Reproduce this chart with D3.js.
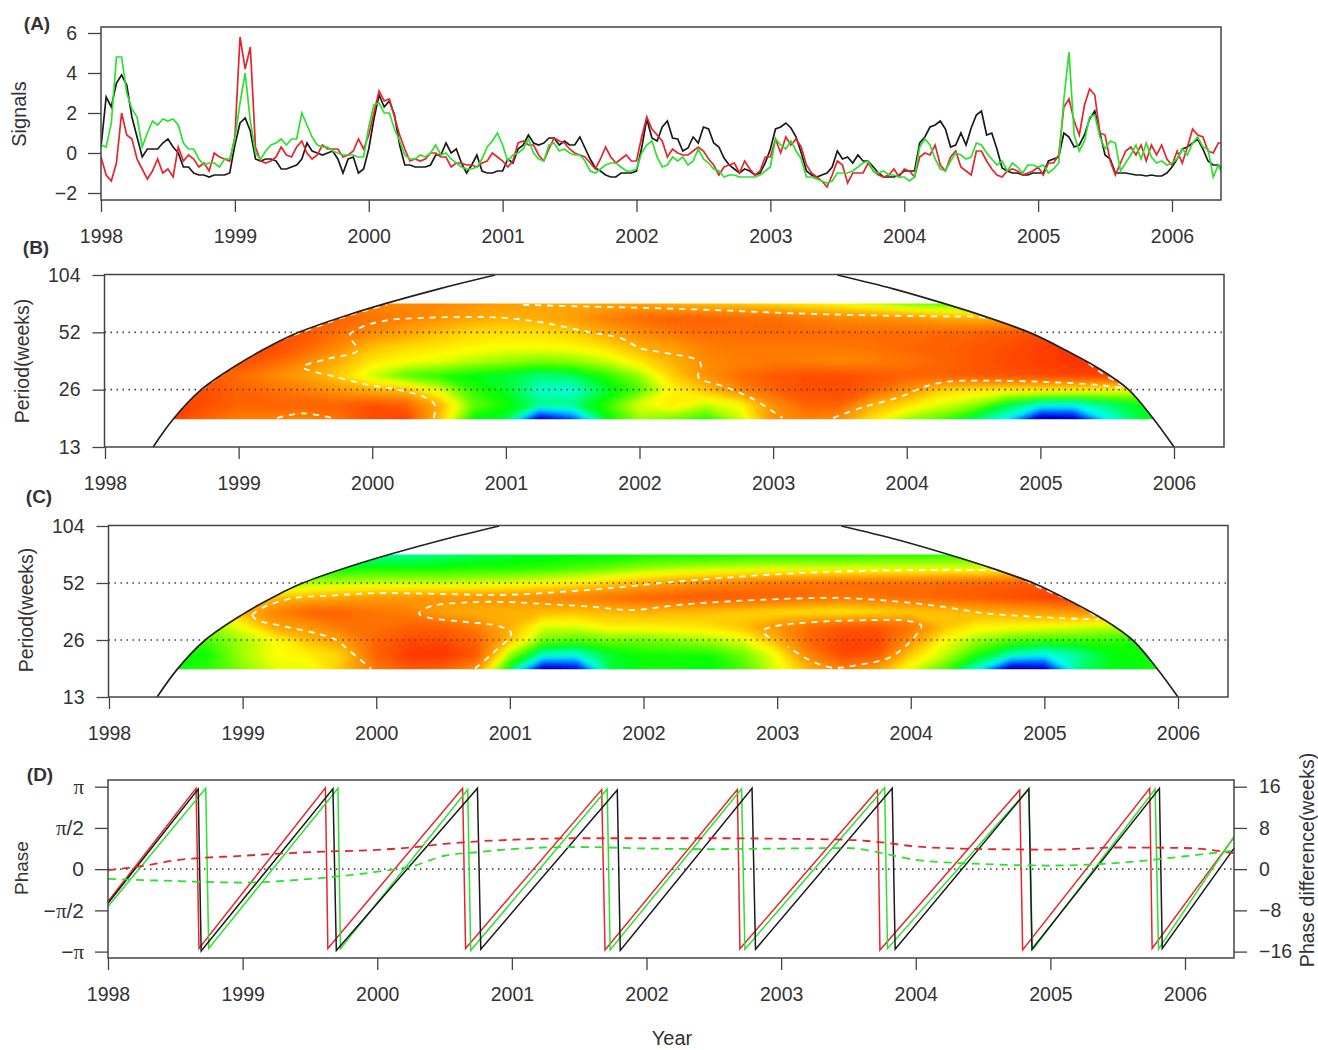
<!DOCTYPE html>
<html>
<head>
<meta charset="utf-8">
<script src="https://cdn.jsdelivr.net/npm/d3@7"></script>
<style>
  body { margin: 0; background: #fff; }
  text { font-family: "Liberation Sans", Arial, sans-serif; fill: #333; }
  .tick text { font-size: 19.5px; fill: #333; }
  .tick line { stroke: #444; stroke-width: 1.3; }
</style>
</head>
<body>
<div id="chart"></div>
<script>
// tick labels
const yearTicks = [1998, 1999, 2000, 2001, 2002, 2003, 2004, 2005, 2006];
const signalTicks = [-2, 0, 2, 4, 6];
const periodTicks = [13, 26, 52, 104];
const phaseTicks = [-Math.PI, -Math.PI / 2, 0, Math.PI / 2, Math.PI];
const phaseLabels = ["\u2212\u03c0", "\u2212\u03c0/2", "0", "\u03c0/2", "\u03c0"];
const diffTicks = [-16, -8, 0, 8, 16];

// panel A, one value every two weeks from 1998 on
const signalBlack = [
  .3,2.8,2.3,3.5,3.9,3.4,1.8,.8,-.2,.2,.2,.2,.5,.7,.3,0,-.7,-.7,-1,-1.1,-1.1,-1.2,-1.1,-1.1,-1.1,-1,
  .4,1.5,1.75,1.1,-.3,-.4,-.3,-.3,-.4,-.8,-.8,-.7,-.6,-.3,.5,.1,0,-.1,0,.1,-.3,-1,-.3,-.2,-1,-.8,
  .2,1.7,2.9,2.3,2.6,1.9,.4,-.6,-.6,-.7,-.7,-.7,-.6,-.1,-.1,.5,0,.2,-.5,-1,-.6,-.1,-.9,-1,-1,-.9,
  -.9,-.3,-.5,.2,.4,.9,.5,.4,.5,.75,.75,.4,.6,.4,.4,.8,.25,-.3,-.75,-.9,-1.1,-1.2,-1.2,-1,-1,-1,
  -.9,.25,1.7,.75,.6,1.3,1.6,.75,.7,.1,.25,.8,.5,1.3,1.2,.5,.3,-.25,-.6,-.8,-1,-.8,-.9,-1.1,-1,-.5,
  .2,1.2,1.3,1.5,1.25,.8,0,-.9,-1.1,-1.2,-1.1,-1,-.7,.1,-.3,-.2,-.5,-.1,-.4,-.4,-.7,-1,-1.2,-1.2,-1.2,-1.1,
  -.9,-.9,-.9,.5,.8,1.3,1.4,1.6,1.2,.3,.4,1,.4,1.25,1.9,2.1,.9,1,.2,-.75,-.9,-1,-1,-1.1,-1.1,-1,
  -1,-1,-.4,-.3,-.2,1,.8,.3,.4,.9,1.7,2.1,1,-.1,-.3,-1,-1,-1,-1.05,-1.1,-1.1,-1.15,-1.1,-1.15,-1.15,-1,
  -.7,-.3,.2,.3,.5,.7,.2,-.4,-.6,-.6,-.9
];
const signalRed = [
  -.2,-1.1,-1.4,-.5,2,.9,.7,-.3,-.8,-1.3,-.9,-.3,-1,-.8,-1.2,.3,-.4,-.1,-.3,-.7,-.5,-.9,0,-.2,-.3,-.4,
  .8,5.8,4.2,5.3,.3,-.4,-.5,-.4,-.2,.3,-.1,-.2,.3,.6,0,-.3,-.1,.4,.2,.2,.2,-.2,-.1,.1,.7,.2,
  .9,2,3.1,2.6,2.7,1.8,.9,.2,-.4,-.3,-.4,-.3,0,0,-.2,-.2,-.7,-.5,-.5,-.6,-.6,-.7,-.5,-.4,0,-.2,
  -.4,-.7,-.4,.5,.6,.4,.4,-.1,-.4,.2,.75,.6,.5,.2,0,-.1,-.2,-.5,-.8,-.3,.3,-.2,-.5,-.3,-.1,-.4,
  -.4,.8,1.8,1.2,.9,.6,-.2,.2,0,-.1,-.1,.1,.3,.1,-.3,-.6,-1.1,-.7,-.6,-.5,-1,-.4,-.8,-1.1,-.9,-.2,
  -.2,.7,0,.8,.4,.7,.3,-.6,-1,-1.2,-1.4,-1.7,-1.1,-.4,-.6,-1.5,-1,-1,-1,-.5,-.9,-1.1,-1.2,-1.1,-.8,-1.2,
  -.8,-.9,-1.2,-.2,0,-.1,.4,-.6,-.9,-.2,.1,-.7,-.9,-1.1,.1,.1,-.4,-.8,-1.1,-1.2,-.9,-.8,-.9,-1.1,-1,-.9,
  -.7,-1.1,-.5,-.5,-.1,2.3,2.7,1.6,.9,2.4,3.2,2.9,1,.9,-.4,-1.1,-.5,.1,.3,-.1,.4,-.4,.4,-.1,.4,-.3,
  -.6,.1,-.5,.3,1.2,.9,.8,.1,0,.5,.5
];
const signalGreen = [
  .4,.3,1.5,4.8,4.8,3,2.2,1.8,.3,1,1.6,1.4,1.7,1.6,1.7,1.4,.5,.2,.2,-.3,-.6,-.5,-.5,-.7,-.3,-.3,
  .7,2.5,4,1.6,0,-.3,.1,.4,.5,.7,.4,.7,.7,2,1.4,.8,.4,.3,.3,.1,0,-.1,-.1,-.1,-.2,-.2,
  1.3,2.4,2.5,2,2,1.2,.6,-.1,-.3,-.3,-.1,-.2,0,.4,-.1,0,-.3,-.5,-.7,-.8,-.8,-.7,-.3,.3,.6,1,
  .4,-.4,-.1,0,.2,.7,0,-.3,-.4,.4,.5,.1,.2,0,-.1,-.1,-.4,-.9,-1,-.8,-.6,-.5,-.5,-.7,-.9,-.9,
  -.8,0,.4,.6,-.2,-.7,-.6,-.2,-.4,-.2,-.6,-.4,.2,-.3,-.5,-.8,-.9,-1.2,-1.1,-1.1,-1.2,-1.2,-1.2,-1.2,-1.1,-.9,
  -.7,.7,.4,.2,.6,.1,-.3,-1.2,-1.2,-1.3,-1.4,-1.5,-1.4,-1,-1,-1,-.9,-.7,-.5,-.4,-.9,-1,-.9,-1.1,-1.1,-1.2,
  -1.2,-1.4,-1.2,.3,.7,.4,-.3,-.8,-.9,-.4,0,-.1,-.3,-.2,.5,.4,0,-.3,-.6,-.4,-.9,-.5,-.7,-1,-.6,-.6,
  -.7,-.6,-1,-.8,-.5,2.7,5.05,.9,.1,.6,1.8,1.9,.8,.2,.6,.5,-.9,-.5,-.1,.4,-.3,.5,-.2,-.5,-.4,-.6,
  -.5,-.3,.2,-.1,.5,.8,.3,.2,-1.2,-.6,-1.2
];

// panels B and C, power on a grid of periods (rows) and years (columns)
const heatFirstYear = 1998.25;
const heatYearStep = 0.25;
const heatPeriods = [73.6, 62, 52, 43.7, 36.8, 30.9, 26, 21.9, 18.2];
const heatB = [
  [.8,.8,.8,.8,.8,.8,.8,.8,.8,.8,.78,.76,.74,.74,.74,.74,.72,.7,.68,.66,.64,.62,.58,.52,.5,.5,.5,.5,.5,.5,.5,.5],
  [.88,.88,.88,.88,.88,.88,.88,.85,.82,.78,.74,.72,.73,.76,.82,.86,.88,.88,.87,.86,.83,.8,.79,.78,.74,.72,.72,.72,.72,.72,.72,.72],
  [.9,.9,.9,.9,.9,.9,.85,.8,.75,.7,.67,.66,.66,.68,.74,.8,.84,.86,.86,.86,.86,.86,.86,.86,.87,.88,.9,.92,.92,.92,.92,.92],
  [.92,.92,.92,.92,.93,.88,.8,.7,.67,.65,.63,.62,.62,.63,.66,.72,.76,.82,.84,.84,.84,.84,.85,.87,.88,.9,.92,.95,.97,.97,.97,.97],
  [.88,.88,.88,.92,.88,.8,.72,.65,.62,.6,.57,.55,.53,.54,.58,.65,.72,.8,.82,.83,.82,.8,.82,.84,.87,.9,.93,.95,.97,.98,.98,.98],
  [.9,.9,.9,.86,.8,.75,.68,.58,.5,.47,.44,.42,.38,.4,.47,.55,.68,.78,.86,.9,.92,.93,.9,.88,.88,.9,.91,.93,.94,.95,.95,.95],
  [.9,.9,.92,.88,.85,.82,.77,.72,.7,.6,.48,.43,.33,.32,.42,.5,.63,.7,.8,.88,.92,.93,.88,.78,.68,.65,.64,.64,.63,.62,.6,.6],
  [.97,.97,.92,.88,.88,.88,.88,.92,.88,.72,.52,.46,.38,.38,.48,.6,.65,.58,.62,.78,.88,.88,.72,.66,.6,.55,.42,.33,.32,.38,.44,.44],
  [.95,.95,.88,.82,.82,.8,.85,.93,.95,.7,.45,.42,.04,.16,.44,.55,.52,.47,.58,.78,.82,.78,.65,.55,.5,.4,.3,.02,.05,.3,.42,.42]
];
const heatC = [
  [.36,.36,.36,.36,.36,.36,.36,.36,.36,.38,.4,.42,.43,.44,.44,.45,.45,.45,.46,.46,.46,.46,.47,.47,.48,.48,.48,.48,.48,.48,.48,.48],
  [.45,.45,.45,.45,.45,.45,.45,.46,.46,.46,.47,.47,.48,.5,.52,.55,.57,.58,.59,.6,.6,.6,.6,.6,.6,.6,.62,.62,.62,.62,.62,.62],
  [.5,.5,.5,.5,.5,.56,.57,.58,.58,.58,.59,.6,.62,.64,.68,.72,.76,.8,.82,.84,.85,.86,.86,.86,.87,.88,.89,.9,.9,.9,.9,.9],
  [.6,.6,.6,.6,.7,.72,.74,.76,.77,.78,.78,.78,.8,.82,.85,.88,.89,.9,.89,.88,.86,.84,.85,.86,.88,.9,.92,.94,.96,.96,.96,.96],
  [.6,.6,.6,.72,.82,.88,.88,.84,.82,.74,.72,.72,.71,.7,.71,.72,.71,.7,.68,.66,.65,.64,.66,.68,.7,.72,.74,.76,.78,.78,.78,.78],
  [.55,.55,.55,.62,.75,.78,.84,.85,.88,.88,.82,.72,.6,.6,.64,.64,.65,.66,.7,.78,.86,.9,.9,.84,.7,.64,.63,.62,.6,.58,.58,.58],
  [.48,.48,.5,.56,.62,.7,.76,.88,.93,.93,.88,.7,.52,.5,.52,.52,.54,.56,.6,.72,.88,.94,.94,.78,.62,.55,.5,.48,.48,.48,.46,.46],
  [.44,.44,.46,.56,.62,.64,.68,.88,.96,.97,.9,.55,.34,.32,.42,.46,.46,.46,.52,.62,.82,.93,.9,.68,.58,.46,.35,.3,.36,.44,.46,.46],
  [.46,.46,.48,.54,.6,.6,.7,.84,.9,.88,.78,.42,.03,.08,.42,.45,.45,.44,.5,.6,.72,.82,.75,.6,.5,.32,.01,.06,.38,.44,.45,.45]
];

// edge of the cone of influence, [year, period]
const coiLeft = [[1998.36,13],[1998.51,18.2],[1998.72,26],[1999.0,35.5],[1999.26,45],[1999.45,52],[1999.83,64.5],[2000.11,74],[2000.5,88],[2000.92,104]];
const coiRight = [[2003.48,104],[2003.9,88],[2004.27,74],[2004.6,62.5],[2004.93,51.5],[2005.2,41.5],[2005.44,33.5],[2005.66,26],[2005.84,18.5],[2006,13]];

// white dashed significance contours, [year, period]
const sigB = [
  [[1998.72,26.1],[1998.98,34.9],[1999.26,45.4],[1999.54,54.2],[1999.83,63.9],[2000.11,72.8]],
  [[2000.46,18.5],[2000.47,21.5],[2000.39,23.8],[2000.2,25.9],[1999.98,27.5],[1999.73,30.3],[1999.48,34.2],[1999.67,37.8],[1999.89,41.8],[1999.83,50.1],[1999.92,55.4],[2000.11,60.1],[2000.36,61.8],[2000.68,62.6],[2000.99,62],[2001.28,58.4],[2001.62,52.2],[2001.87,48.2],[2002.0,43],[2002.15,41],[2002.44,37],[2002.46,34.9],[2002.44,30.3],[2002.64,26.9],[2002.84,23.4],[2003.07,18.5]],
  [[2003.45,18.5],[2003.67,21],[2003.95,23.8],[2004.13,26.9],[2004.3,28.6],[2004.58,29],[2005.01,28.6],[2005.44,27.5],[2005.65,26.3]],
  [[2001.13,72.5],[2001.62,71],[2002.0,70],[2002.58,68],[2003.15,65.5],[2003.72,63.9],[2004.3,63],[2004.53,62.6],[2004.73,59],[2004.96,51],[2005.24,41],[2005.44,32.5],[2005.65,26.3]],
  [[1999.29,18.5],[1999.48,19.5],[1999.7,18.5]]
];
const sigC = [
  [[1999.07,35.3],[1999.15,38.5],[1999.36,43],[1999.64,44.5],[2000.02,46],[2000.49,45.5],[2000.97,45],[2001.44,47],[2001.75,48.8],[2002.07,51.5],[2002.26,53],[2002.69,56],[2003.12,58.4],[2003.55,60],[2003.98,60.8],[2004.41,61],[2004.7,59.6],[2004.95,49.7],[2005.21,41.3],[2005.41,33.8]],
  [[1999.07,35.3],[1999.1,33.4],[1999.32,30.6],[1999.55,28.2],[1999.7,26],[1999.8,22.8],[1999.96,18.4]],
  [[2000.74,18.4],[2000.87,22.1],[2001.01,28.2],[2000.93,30.6],[2000.65,32.5],[2000.4,34],[2000.32,35.8],[2000.4,39],[2000.65,41],[2000.97,41.3],[2001.28,40.2],[2001.6,39],[2001.91,37.4],[2002.26,39.8],[2002.69,41.8],[2003.12,43],[2003.41,43.4],[2003.7,42.6],[2003.98,41],[2004.27,38.7],[2004.55,36],[2004.84,34.8],[2005.13,33.9],[2005.41,33.4]],
  [[2002.94,26.8],[2002.89,29],[2002.97,30.6],[2003.27,32.3],[2003.7,33.1],[2003.98,32.8],[2004.08,31],[2004.05,28.2],[2003.98,24.8],[2003.84,21],[2003.61,19.2],[2003.41,18.6],[2003.24,20.4],[2003.08,24]]
];

// panel D, phase sawteeth
const phaseYearsBlack = [1998,1998.67,1998.692,1999.671,1999.696,2000.744,2000.769,2001.783,2001.805,2002.784,2002.81,2003.825,2003.847,2004.84,2004.863,2005.81,2005.831,2006.365];
const phaseYearsRed = [1998,1998.654,1998.676,1999.615,1999.633,2000.634,2000.656,2001.667,2001.692,2002.675,2002.694,2003.716,2003.734,2004.772,2004.794,2005.738,2005.756,2006.365];
const phaseYearsGreen = [1998,1998.726,1998.748,1999.708,1999.727,2000.672,2000.694,2001.708,2001.73,2002.706,2002.731,2003.769,2003.79,2004.84,2004.866,2005.778,2005.803,2006.365];
const phaseBlack = [-1.3,3.05,-3.12,3.06,-3.1,3.08,-3.05,3.02,-3.1,3.08,-3.05,3.08,-3.05,3.06,-3.05,3.08,-3.02,.8];
const phaseRed = [-1.23,3.08,-3.02,3.1,-3.02,3.08,-3.02,3.03,-3.08,3.03,-3.03,3.02,-3.08,3.02,-3.08,3.08,-3.02,1.22];
const phaseGreen = [-1.42,3.08,-3.02,3.08,-3.03,3.03,-3.1,3.05,-3.08,3.06,-3.05,3.1,-3.03,3.06,-3.08,3.05,-3.05,1.25];

// phase difference in weeks, dashed
const diffRed = [[1998,-.2],[1998.25,.6],[1998.5,1.7],[1999,2.6],[1999.5,3.3],[2000,3.75],[2000.25,4.2],[2000.5,4.9],[2000.75,5.4],[2001,5.7],[2001.5,6],[2002,6],[2002.5,6],[2003,5.9],[2003.5,5.7],[2003.75,5.2],[2004,4.4],[2004.5,3.9],[2005,3.8],[2005.5,4.2],[2006,4.1],[2006.36,3.1]];
const diffGreen = [[1998,-1.9],[1998.5,-2.3],[1999,-2.6],[1999.5,-1.9],[2000,-.5],[2000.25,.5],[2000.5,2.6],[2000.75,3.3],[2001,3.9],[2001.5,4.3],[2002,4],[2002.5,3.9],[2003,4],[2003.5,4.1],[2003.75,3.1],[2004,1.8],[2004.5,1],[2005,.7],[2005.5,1.2],[2006,2.5],[2006.36,3.6]];

const lineRed = "#e3262e", lineGreen = "#2ee02e", lineBlack = "#1a1a1a";

const svg = d3.select("#chart").append("svg")
  .attr("width", 1318)
  .attr("height", 1050);
const defs = svg.append("defs");

// softens the steps of the coarse heat grid
defs.append("filter").attr("id", "soften")
  .attr("filterUnits", "userSpaceOnUse")
  .attr("x", 0).attr("y", 0).attr("width", 1318).attr("height", 1050)
  .append("feGaussianBlur").attr("stdDeviation", 2.2);

const color = d3.scaleLinear()
  .domain([0, .12, .3, .45, .62, .72, .82, .92, 1])
  .range(["#000080", "#0000ff", "#00ffff", "#00ff00", "#ffff00", "#ffb000", "#ff8000", "#ff4e00", "#ff2400"]);

function yearAxis(x, top, bottom) {
  svg.append("g")
    .attr("transform", "translate(0," + bottom + ")")
    .call(d3.axisBottom(x).tickValues(yearTicks).tickFormat(d3.format("d")).tickSize(12).tickPadding(17))
    .call(g => g.select(".domain").remove());
}

function frame(left, top, right, bottom) {
  svg.append("rect")
    .attr("x", left).attr("y", top)
    .attr("width", right - left).attr("height", bottom - top)
    .attr("fill", "none")
    .attr("stroke", "#444")
    .attr("stroke-width", 1.5);
}

function label(text, x, y, rotate, size, weight) {
  svg.append("text")
    .attr("transform", "translate(" + x + "," + y + ")" + (rotate ? " rotate(-90)" : ""))
    .attr("text-anchor", "middle")
    .attr("font-size", size)
    .attr("font-weight", weight || "normal")
    .text(text);
}

function drawSignals() {
  const left = 101, right = 1221, top = 27, bottom = 200;
  const x = d3.scaleLinear().domain([1998, 2006]).range([101, 1172]);
  const y = d3.scaleLinear().domain([-2, 6]).range([193, 33]);
  defs.append("clipPath").attr("id", "clipA").append("rect")
    .attr("x", left).attr("y", top).attr("width", right - left).attr("height", bottom - top);
  const line = d3.line().x((d, i) => x(1998 + i / 26)).y(d => y(d));
  const g = svg.append("g").attr("clip-path", "url(#clipA)");
  [[signalBlack, lineBlack], [signalRed, lineRed], [signalGreen, lineGreen]].forEach(s => {
    g.append("path").datum(s[0])
      .attr("d", line)
      .attr("fill", "none")
      .attr("stroke", s[1])
      .attr("stroke-width", 1.7);
  });
  frame(left, top, right, bottom);
  yearAxis(x, top, bottom);
  svg.append("g")
    .attr("transform", "translate(" + left + ",0)")
    .call(d3.axisLeft(y).tickValues(signalTicks).tickFormat(d3.format("d")).tickSize(13).tickPadding(11))
    .call(g => g.select(".domain").remove());
}

function drawWavelet(id, heat, sig, b) {
  const x = d3.scaleLinear().domain([1998, 2006]).range([b.x0, b.x1]);
  const y = d3.scaleLog().base(2).domain([13, 104]).range([b.bottom, b.y104]);
  const rowY = d3.scaleLinear().domain([.5, heatPeriods.length - .5])
    .range([y(heatPeriods[0]), y(heatPeriods[heatPeriods.length - 1])]);
  const colX = gx => x(heatFirstYear + (gx - .5) * heatYearStep);

  const coiLine = d3.line().x(d => x(d[0])).y(d => y(d[1])).curve(d3.curveCatmullRom.alpha(.5));
  defs.append("clipPath").attr("id", "coi" + id).append("path")
    .attr("d", coiLine(coiLeft) + "L" + coiLine(coiRight).slice(1) + "Z");
  defs.append("clipPath").attr("id", "band" + id).append("rect")
    .attr("x", b.left).attr("y", y(heatPeriods[0]))
    .attr("width", b.right - b.left)
    .attr("height", y(heatPeriods[heatPeriods.length - 1]) - y(heatPeriods[0]));

  const contours = d3.contours()
    .size([heat[0].length, heat.length])
    .thresholds(d3.range(0, 1, .015))(heat.flat());
  const path = d3.geoPath(d3.geoTransform({
    point: function (gx, gy) { this.stream.point(colX(gx), rowY(gy)); }
  }));
  svg.append("g").attr("clip-path", "url(#coi" + id + ")")
    .append("g").attr("clip-path", "url(#band" + id + ")")
    .append("g").attr("filter", "url(#soften)")
    .selectAll("path").data(contours).enter().append("path")
    .attr("d", path)
    .attr("fill", d => color(d.value + .0075));

  // dotted lines at 52 and 26 weeks
  svg.selectAll(".dot" + id).data([26, 52]).enter().append("line")
    .attr("x1", b.left).attr("x2", b.right)
    .attr("y1", d => y(d)).attr("y2", d => y(d))
    .attr("stroke", "#444")
    .attr("stroke-width", 1.6)
    .attr("stroke-dasharray", "1.5,4.5");

  const sigLine = d3.line().x(d => x(d[0])).y(d => y(d[1])).curve(d3.curveCatmullRom);
  svg.selectAll(".sig" + id).data(sig).enter().append("path")
    .attr("d", sigLine)
    .attr("fill", "none")
    .attr("stroke", "#fff")
    .attr("stroke-width", 1.8)
    .attr("stroke-dasharray", "6,6");

  [coiLeft, coiRight].forEach(c => {
    svg.append("path")
      .attr("d", coiLine(c))
      .attr("fill", "none")
      .attr("stroke", "#222")
      .attr("stroke-width", 1.7);
  });

  frame(b.left, b.top, b.right, b.bottom);
  yearAxis(x, b.top, b.bottom);
  svg.append("g")
    .attr("transform", "translate(" + b.left + ",0)")
    .call(d3.axisLeft(y).tickValues(periodTicks).tickFormat(d3.format("d")).tickSize(12).tickPadding(12))
    .call(g => g.select(".domain").remove());
}

function drawPhase() {
  const left = 108, right = 1234, top = 780, bottom = 958;
  const x = d3.scaleLinear().domain([1998, 2006]).range([108, 1185]);
  const y = d3.scaleLinear().domain([-Math.PI, Math.PI]).range([951.6, 786.7]);
  const yDiff = d3.scaleLinear().domain([-16, 16]).range([951.6, 786.7]);

  svg.append("line")
    .attr("x1", left).attr("x2", right)
    .attr("y1", y(0)).attr("y2", y(0))
    .attr("stroke", "#555")
    .attr("stroke-width", 1.6)
    .attr("stroke-dasharray", "1.5,4.5");

  const line = d3.line().x(d => x(d[0])).y(d => y(d[1]));
  [[phaseYearsRed, phaseRed, lineRed], [phaseYearsGreen, phaseGreen, lineGreen], [phaseYearsBlack, phaseBlack, lineBlack]].forEach(s => {
    svg.append("path").datum(d3.zip(s[0], s[1]))
      .attr("d", line)
      .attr("fill", "none")
      .attr("stroke", s[2])
      .attr("stroke-width", 1.5);
  });

  const diffLine = d3.line().x(d => x(d[0])).y(d => yDiff(d[1])).curve(d3.curveMonotoneX);
  [[diffRed, lineRed], [diffGreen, lineGreen]].forEach(s => {
    svg.append("path").datum(s[0])
      .attr("d", diffLine)
      .attr("fill", "none")
      .attr("stroke", s[1])
      .attr("stroke-width", 1.8)
      .attr("stroke-dasharray", "8,6");
  });

  frame(left, top, right, bottom);
  yearAxis(x, top, bottom);
  svg.append("g")
    .attr("transform", "translate(" + left + ",0)")
    .call(d3.axisLeft(y).tickValues(phaseTicks).tickFormat((d, i) => phaseLabels[i]).tickSize(13).tickPadding(11))
    .call(g => g.select(".domain").remove())
    .call(g => g.selectAll(".tick text").each(function (d, i) {
      // pi is set in a serif face, the rest stays sans
      const t = d3.select(this).text("").style("font-size", "21px");
      phaseLabels[i].split(/(\u03c0)/).forEach(part => {
        t.append("tspan")
          .style("font-family", part === "\u03c0" ? "'Liberation Serif', serif" : null)
          .text(part);
      });
    }));
  svg.append("g")
    .attr("transform", "translate(" + right + ",0)")
    .call(d3.axisRight(yDiff).tickValues(diffTicks).tickFormat(d3.format("d")).tickSize(13).tickPadding(12))
    .call(g => g.select(".domain").remove());
}

drawSignals();
drawWavelet("B", heatB, sigB, { left: 104.5, right: 1224, top: 274.5, bottom: 447, x0: 105, x1: 1174, y104: 275 });
drawWavelet("C", heatC, sigC, { left: 108.5, right: 1228, top: 525.5, bottom: 697, x0: 109, x1: 1178, y104: 526 });
drawPhase();

label("(A)", 37, 30, false, 19, "bold");
label("(B)", 36, 254, false, 19, "bold");
label("(C)", 39, 503, false, 19, "bold");
label("(D)", 40, 781, false, 19, "bold");
label("Signals", 26, 114, true, 20);
label("Period(weeks)", 29, 361, true, 19.5);
label("Period(weeks)", 33, 610, true, 19.5);
label("Phase", 28, 868, true, 19);
label("Phase difference(weeks)", 1314, 860, true, 19.5);
label("Year", 672, 1045, false, 20);
</script>
</body>
</html>
